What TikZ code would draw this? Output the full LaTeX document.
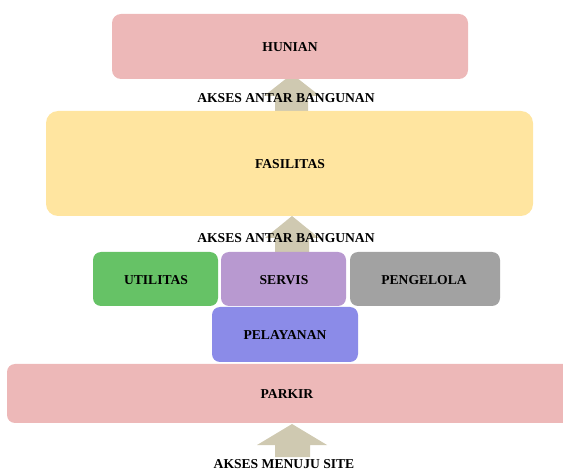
\documentclass[tikz,border=0pt]{standalone}
\usepackage{fontspec}
\setmainfont{Liberation Serif}
\definecolor{pinkbox}{HTML}{EDB8B8}
\definecolor{yellowbox}{HTML}{FFE5A0}
\definecolor{greenbox}{HTML}{66C266}
\definecolor{purplebox}{HTML}{B899D0}
\definecolor{greybox}{HTML}{A2A2A2}
\definecolor{bluebox}{HTML}{8B8BE8}
\definecolor{arrowtan}{HTML}{CFC9B1}
\begin{document}
\begin{tikzpicture}[x=1pt,y=-1pt,
  lbl/.style={inner sep=0pt,font=\fontsize{13.6}{15}\selectfont\bfseries},
  uparrow/.style={fill=arrowtan,draw=none}]
\useasboundingbox (0,0) rectangle (563,473);
% block arrows (behind)
\fill[uparrow] (275,112) -- (275,96) -- (264,96) -- (292,74) -- (320,96) -- (308,96) -- (308,112) -- cycle;
\fill[uparrow] (275,252) -- (275,238) -- (265,238) -- (292,216) -- (319,238) -- (309,238) -- (309,252) -- cycle;
\fill[uparrow] (275,457) -- (275,445) -- (257,445) -- (292,424) -- (327,445) -- (310,445) -- (310,457) -- cycle;
% boxes
\fill[pinkbox,rounded corners=9pt] (112,14) rectangle (468,79);
\node[lbl] (hunian) at (290,47) {HUNIAN};
\fill[yellowbox,rounded corners=12pt] (46,111) rectangle (533,216);
\node[lbl] (fasilitas) at (290,164) {FASILITAS};
\fill[greenbox,rounded corners=8pt] (93,252) rectangle (218,306);
\node[lbl] (utilitas) at (156,280) {UTILITAS};
\fill[purplebox,rounded corners=8pt] (221,252) rectangle (346,306);
\node[lbl] (servis) at (284,280) {SERVIS};
\fill[greybox,rounded corners=8pt] (350,252) rectangle (500,306);
\node[lbl] (pengelola) at (424,280) {PENGELOLA};
\fill[bluebox,rounded corners=8pt] (212,307) rectangle (358,362);
\node[lbl] (pelayanan) at (285,335) {PELAYANAN};
\fill[pinkbox,rounded corners=8pt] (7,364) rectangle (580,423);
\node[lbl] (parkir) at (287,394) {PARKIR};
% labels
\node[lbl] (akses1) at (286,98) {AKSES ANTAR BANGUNAN};
\node[lbl] (akses2) at (286,238) {AKSES ANTAR BANGUNAN};
\node[lbl] (akses3) at (284,464) {AKSES MENUJU SITE};
\end{tikzpicture}
\end{document}
